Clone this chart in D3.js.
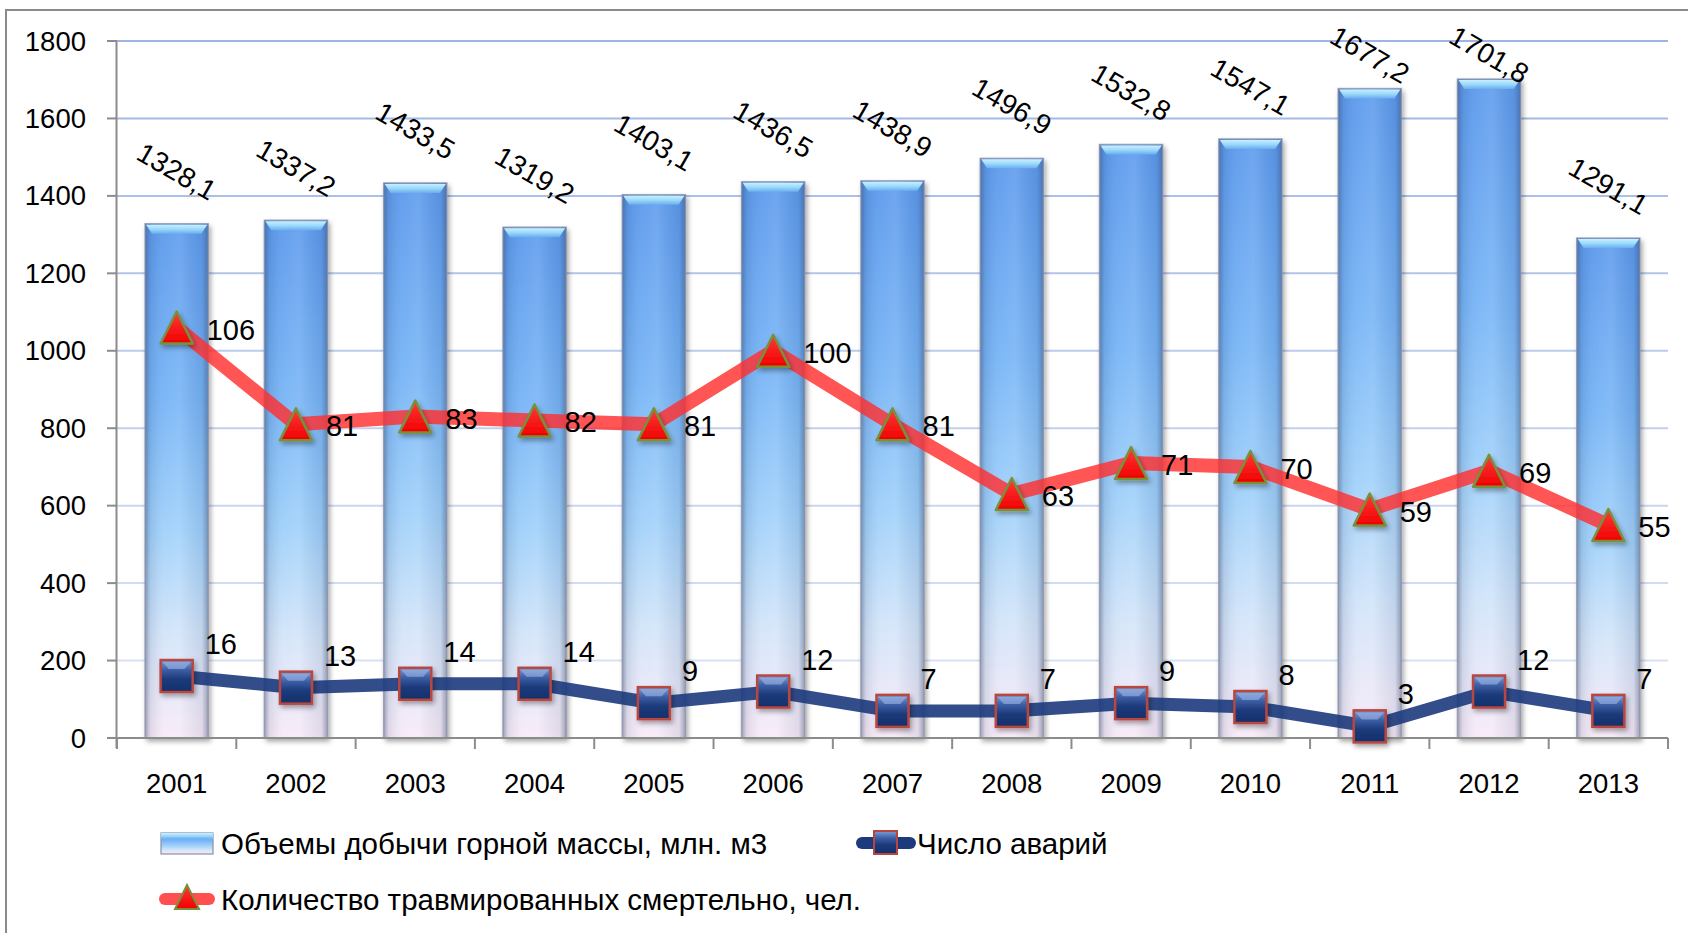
<!DOCTYPE html>
<html><head><meta charset="utf-8">
<script src="https://cdn.jsdelivr.net/npm/d3@7"></script>
<style>
html,body{margin:0;padding:0;background:#fff;}
svg{display:block;}
text{font-family:"Liberation Sans","DejaVu Sans",sans-serif;fill:#000;}
</style></head>
<body>
<svg id="chart" width="1688" height="933"></svg>
<script>
// ---- data ----
const years = ["2001","2002","2003","2004","2005","2006","2007","2008","2009","2010","2011","2012","2013"];
const volume = [1328.1, 1337.2, 1433.5, 1319.2, 1403.1, 1436.5, 1438.9, 1496.9, 1532.8, 1547.1, 1677.2, 1701.8, 1291.1];
const accidents = [16, 13, 14, 14, 9, 12, 7, 7, 9, 8, 3, 12, 7];
const fatalities = [106, 81, 83, 82, 81, 100, 81, 63, 71, 70, 59, 69, 55];
const yTicks = [0, 200, 400, 600, 800, 1000, 1200, 1400, 1600, 1800];
const legendLabels = ["Объемы добычи горной массы, млн. м3", "Число аварий", "Количество травмированных смертельно, чел."];

const svg = d3.select("#chart");
const defs = svg.append("defs");

// frame
svg.append("rect").attr("x", 6).attr("y", 10).attr("width", 1720).attr("height", 1000)
  .attr("fill", "#fff").attr("stroke", "#8a8a8a").attr("stroke-width", 2);

const pLeft = 117, pRight = 1668, pTop = 41, pBottom = 738;
const y = d3.scaleLinear().domain([0, 1800]).range([pBottom, pTop]);
const y2 = d3.scaleLinear().domain([0, 180]).range([pBottom, pTop]);
const x = d3.scaleBand().domain(years).range([pLeft, pRight]).paddingInner(0.47).paddingOuter(0.235);
const cx = d => x(d) + x.bandwidth() / 2;
const loc = d3.formatLocale({decimal: ",", thousands: "", grouping: [3], currency: ["", ""]});
const f1 = loc.format(".1f");

// gradients
const gV = defs.append("linearGradient").attr("id", "barV").attr("x1", 0).attr("y1", 0).attr("x2", 0).attr("y2", 1);
[[0, "#5a98ec"], [0.35, "#76b4f6"], [0.6, "#9fd0fa"], [0.8, "#d2e4f9"], [1, "#f8eaf7"]].forEach(s =>
  gV.append("stop").attr("offset", s[0]).attr("stop-color", s[1]));
const gH = defs.append("linearGradient").attr("id", "barH").attr("x1", 0).attr("y1", 0).attr("x2", 1).attr("y2", 0);
[[0, "#334466", 0.45], [0.08, "#334466", 0.12], [0.3, "#ffffff", 0.06], [0.55, "#ffffff", 0.12], [0.9, "#334466", 0.1], [1, "#334466", 0.45]].forEach(s =>
  gH.append("stop").attr("offset", s[0]).attr("stop-color", s[1]).attr("stop-opacity", s[2]));
const gTop = defs.append("linearGradient").attr("id", "barTop").attr("x1", 0).attr("y1", 0).attr("x2", 0).attr("y2", 1);
[[0, "#c8f0ff"], [0.5, "#9ad8fb"], [1, "#6aaef0"]].forEach(s =>
  gTop.append("stop").attr("offset", s[0]).attr("stop-color", s[1]));
const gSq = defs.append("linearGradient").attr("id", "sq").attr("x1", 0).attr("y1", 0).attr("x2", 0).attr("y2", 1);
[[0, "#7f9fd6"], [0.3, "#3d5fa6"], [0.6, "#1c3a7a"], [1, "#13306b"]].forEach(s =>
  gSq.append("stop").attr("offset", s[0]).attr("stop-color", s[1]));
const gTri = defs.append("linearGradient").attr("id", "tri").attr("x1", 0).attr("y1", 0).attr("x2", 0).attr("y2", 1);
[[0, "#ff3a3a"], [1, "#f00000"]].forEach(s =>
  gTri.append("stop").attr("offset", s[0]).attr("stop-color", s[1]));
const sh = defs.append("filter").attr("id", "shadow").attr("x", "-30%").attr("y", "-30%").attr("width", "160%").attr("height", "160%");
sh.append("feDropShadow").attr("dx", 2).attr("dy", 3).attr("stdDeviation", 2.5).attr("flood-color", "#000").attr("flood-opacity", 0.35);

// gridlines
const gridCol = d3.interpolateRgb("#dfe7f6", "#9db4e4");
svg.append("g").selectAll("line").data(yTicks.filter(t => t > 0)).join("line")
  .attr("x1", pLeft).attr("x2", pRight).attr("y1", d => y(d)).attr("y2", d => y(d))
  .attr("stroke", d => gridCol(d / 1800)).attr("stroke-width", 2);

// bars
const bars = svg.append("g");
years.forEach((yr, i) => {
  const bx = x(yr), bw = x.bandwidth(), by = y(volume[i]), bh = y(0) - y(volume[i]);
  const g = bars.append("g").attr("filter", "url(#shadow)");
  g.append("rect").attr("x", bx).attr("y", by).attr("width", bw).attr("height", bh).attr("fill", "url(#barV)");
  g.append("rect").attr("x", bx).attr("y", by).attr("width", bw).attr("height", bh).attr("fill", "url(#barH)")
    .attr("stroke", "#8a8fa6").attr("stroke-opacity", 0.7).attr("stroke-width", 1.5);
  g.append("path").attr("d", `M${bx + 1},${by + 1} L${bx + bw - 1},${by + 1} L${bx + bw - 7},${by + 10} L${bx + 7},${by + 10} Z`)
    .attr("fill", "url(#barTop)");
});

// axes
const axisCol = "#8c8c8c";
const axisFont = 27.5, dataFont = 29, legendFont = 29.5;
svg.append("line").attr("x1", pLeft - 0.5).attr("x2", pLeft - 0.5).attr("y1", pTop).attr("y2", pBottom + 10).attr("stroke", axisCol).attr("stroke-width", 2);
svg.append("line").attr("x1", pLeft - 10).attr("x2", pRight).attr("y1", pBottom).attr("y2", pBottom).attr("stroke", axisCol).attr("stroke-width", 2);
svg.append("g").selectAll("line").data(yTicks).join("line")
  .attr("x1", pLeft - 10).attr("x2", pLeft).attr("y1", d => y(d)).attr("y2", d => y(d))
  .attr("stroke", axisCol).attr("stroke-width", 2);
svg.append("g").selectAll("text").data(yTicks).join("text")
  .attr("x", 86).attr("y", d => y(d)).attr("text-anchor", "end").attr("dominant-baseline", "central")
  .attr("font-size", axisFont).text(d => d);
const bounds = d3.range(years.length + 1).map(i => pLeft + i * x.step());
svg.append("g").selectAll("line").data(bounds).join("line")
  .attr("x1", d => d).attr("x2", d => d).attr("y1", pBottom).attr("y2", pBottom + 11)
  .attr("stroke", axisCol).attr("stroke-width", 2);
svg.append("g").selectAll("text").data(years).join("text")
  .attr("x", d => cx(d)).attr("y", 783).attr("text-anchor", "middle").attr("dominant-baseline", "central")
  .attr("font-size", axisFont).text(d => d);

// bar value labels (kept inside the chart area)
svg.append("g").selectAll("text").data(years).join("text")
  .attr("transform", (d, i) => `translate(${cx(d)},${Math.max(y(volume[i]) - 52, 55)}) rotate(30)`)
  .attr("text-anchor", "middle").attr("dominant-baseline", "central").attr("font-size", 28)
  .text((d, i) => f1(volume[i]));

// lines
const lineF = d3.line().x((d, i) => cx(years[i])).y(d => y2(d));
svg.append("path").attr("d", lineF(fatalities)).attr("fill", "none")
  .attr("stroke", "#ff3030").attr("stroke-opacity", 0.82).attr("stroke-width", 14)
  .attr("stroke-linejoin", "round").attr("stroke-linecap", "round");
svg.append("path").attr("d", lineF(accidents)).attr("fill", "none")
  .attr("stroke", "#1c3a7c").attr("stroke-opacity", 0.9).attr("stroke-width", 13)
  .attr("stroke-linejoin", "round").attr("stroke-linecap", "round");

// markers
const triPath = s => `M0,${-s / 2} L${s / 2},${s / 2} L${-s / 2},${s / 2} Z`;
svg.append("g").selectAll("path").data(fatalities).join("path")
  .attr("transform", (d, i) => `translate(${cx(years[i])},${y2(d)})`)
  .attr("d", triPath(32)).attr("fill", "url(#tri)").attr("stroke", "#7a8f3a").attr("stroke-width", 2.5)
  .attr("stroke-linejoin", "round").attr("filter", "url(#shadow)");
const sqG = svg.append("g").selectAll("g").data(accidents).join("g")
  .attr("transform", (d, i) => `translate(${cx(years[i])},${y2(d)})`).attr("filter", "url(#shadow)");
sqG.append("rect").attr("x", -16).attr("y", -16).attr("width", 32).attr("height", 32)
  .attr("fill", "url(#sq)").attr("stroke", "#b8463f").attr("stroke-width", 2.5);
sqG.append("path").attr("d", "M-14,-14 L14,-14 L8,-7 L-8,-7 Z").attr("fill", "#9fb6e6").attr("opacity", 0.6);

// line labels
svg.append("g").selectAll("text").data(fatalities).join("text")
  .attr("x", (d, i) => cx(years[i]) + 30).attr("y", d => y2(d) + 2).attr("dominant-baseline", "central")
  .attr("font-size", dataFont).text(d => d);
svg.append("g").selectAll("text").data(accidents).join("text")
  .attr("x", (d, i) => cx(years[i]) + 28).attr("y", d => y2(d) - 32).attr("dominant-baseline", "central")
  .attr("font-size", dataFont).text(d => d);

// legend
const lg = svg.append("g");
const l1 = lg.append("g").attr("transform", "translate(161,843)");
l1.append("rect").attr("x", 0).attr("y", -10).attr("width", 52).attr("height", 21).attr("fill", "url(#barV)")
  .attr("stroke", "#8a8fa6").attr("stroke-width", 1.2);
l1.append("rect").attr("x", 0).attr("y", -10).attr("width", 52).attr("height", 6).attr("fill", "url(#barTop)");
l1.append("text").attr("x", 60).attr("y", 0).attr("dominant-baseline", "central").attr("font-size", legendFont).text(legendLabels[0]);

const l2 = lg.append("g").attr("transform", "translate(856,843)");
l2.append("line").attr("x1", 6).attr("x2", 54).attr("y1", 0).attr("y2", 0).attr("stroke", "#1c3a7c").attr("stroke-width", 12).attr("stroke-linecap", "round");
l2.append("rect").attr("x", 18).attr("y", -12).attr("width", 23).attr("height", 23).attr("fill", "url(#sq)").attr("stroke", "#b8463f").attr("stroke-width", 2);
l2.append("text").attr("x", 61).attr("y", 0).attr("dominant-baseline", "central").attr("font-size", legendFont).text(legendLabels[1]);

const l3 = lg.append("g").attr("transform", "translate(159,899)");
l3.append("line").attr("x1", 6).attr("x2", 50).attr("y1", 0).attr("y2", 0).attr("stroke", "#ff3030").attr("stroke-opacity", 0.85).attr("stroke-width", 12).attr("stroke-linecap", "round");
l3.append("path").attr("transform", "translate(28,-2)").attr("d", triPath(24)).attr("fill", "url(#tri)").attr("stroke", "#7a8f3a").attr("stroke-width", 2);
l3.append("text").attr("x", 62).attr("y", 0).attr("dominant-baseline", "central").attr("font-size", legendFont).text(legendLabels[2]);
</script>
</body></html>
